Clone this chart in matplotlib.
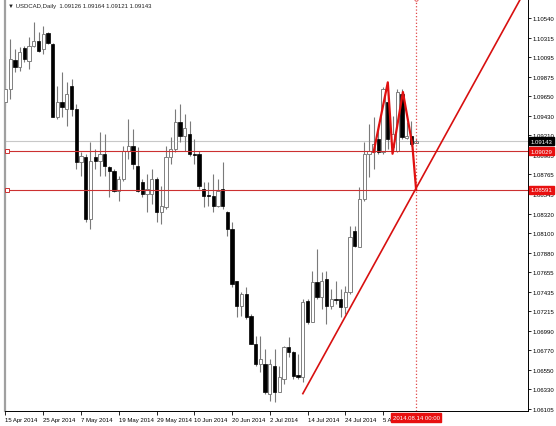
# -*- coding: utf-8 -*-
import matplotlib
matplotlib.use("Agg")
import matplotlib.pyplot as plt
import matplotlib.transforms as mtransforms
import numpy as np
import pandas as pd

plt.rcParams['font.family'] = ['Liberation Sans', 'DejaVu Sans']

# USDCAD daily bars, 15 Apr 2014 .. 14 Aug 2014
dates = pd.bdate_range("2014-04-15", "2014-08-14")

opens = [1.0959, 1.0973, 1.1006, 1.0998, 1.1020, 1.1005, 1.1022, 1.1028, 1.1019, 1.1037,
         1.1024, 1.0942, 1.0959, 1.0951, 1.0977, 1.0951, 1.0891, 1.0896, 1.0826, 1.0896,
         1.0892, 1.0900, 1.0885, 1.0881, 1.0858, 1.0871, 1.0903, 1.0909, 1.0886, 1.0868,
         1.0854, 1.0854, 1.0871, 1.0834, 1.0840, 1.0896, 1.0905, 1.0936, 1.0920, 1.0922,
         1.0900, 1.0900, 1.0860, 1.0853, 1.0852, 1.0841, 1.0860, 1.0834, 1.0815, 1.0756,
         1.0727, 1.0741, 1.0716, 1.0684, 1.0662, 1.0662, 1.0628, 1.0659, 1.0630, 1.0645,
         1.0681, 1.0675, 1.0649, 1.0647, 1.0733, 1.0709, 1.0755, 1.0738, 1.0758, 1.0727,
         1.0735, 1.0735, 1.0726, 1.0743, 1.0812, 1.0794, 1.0849, 1.0900, 1.0902, 1.0917,
         1.0902, 1.0959, 1.0908, 1.0903, 1.0968, 1.0918, 1.0920, 1.09126]
highs = [1.1011, 1.1030, 1.1019, 1.1021, 1.1022, 1.1032, 1.1049, 1.1038, 1.1045, 1.1038,
         1.1026, 1.0977, 1.0993, 1.0981, 1.0985, 1.0956, 1.0902, 1.0900, 1.0913, 1.0905,
         1.0925, 1.0922, 1.0886, 1.0883, 1.0875, 1.0909, 1.0939, 1.0928, 1.0908, 1.0871,
         1.0877, 1.0883, 1.0874, 1.0863, 1.0909, 1.0919, 1.0951, 1.0956, 1.0945, 1.0937,
         1.0917, 1.0903, 1.0868, 1.0868, 1.0877, 1.0871, 1.0891, 1.0835, 1.0823, 1.0756,
         1.0743, 1.0749, 1.0718, 1.0693, 1.0693, 1.0679, 1.0667, 1.0679, 1.0659, 1.0682,
         1.0692, 1.0676, 1.0673, 1.0735, 1.0735, 1.0767, 1.0792, 1.0766, 1.0767, 1.0747,
         1.0756, 1.0747, 1.0750, 1.0818, 1.0818, 1.0862, 1.0913, 1.0934, 1.0942, 1.0934,
         1.0976, 1.0968, 1.0943, 1.0973, 1.0973, 1.0936, 1.0937, 1.09164]
lows = [1.0954, 1.0962, 1.0993, 1.0994, 1.1004, 1.0996, 1.1021, 1.1015, 1.1013, 1.1024,
        1.0942, 1.0939, 1.0942, 1.0932, 1.0943, 1.0883, 1.0875, 1.0823, 1.0815, 1.0883,
        1.0875, 1.0875, 1.0851, 1.0857, 1.0846, 1.0869, 1.0894, 1.0883, 1.0857, 1.0851,
        1.0834, 1.0843, 1.0823, 1.0820, 1.0837, 1.0888, 1.0902, 1.0913, 1.0903, 1.0897,
        1.0888, 1.0860, 1.0840, 1.0841, 1.0834, 1.0840, 1.0837, 1.0807, 1.0749, 1.0715,
        1.0716, 1.0713, 1.0684, 1.0659, 1.0653, 1.0628, 1.0620, 1.0619, 1.0630, 1.0639,
        1.0670, 1.0645, 1.0645, 1.0641, 1.0707, 1.0709, 1.0735, 1.0724, 1.0707, 1.0724,
        1.0730, 1.0715, 1.0718, 1.0741, 1.0794, 1.0794, 1.0846, 1.0874, 1.0883, 1.0900,
        1.0900, 1.0905, 1.0902, 1.0902, 1.0917, 1.0917, 1.0909, 1.09121]
closes = [1.0973, 1.1007, 1.0998, 1.1015, 1.1007, 1.1022, 1.1028, 1.1017, 1.1036, 1.1026,
          1.0942, 1.0959, 1.0953, 1.0968, 1.0951, 1.0891, 1.0897, 1.0826, 1.0892, 1.0892,
          1.0900, 1.0886, 1.0881, 1.0858, 1.0871, 1.0903, 1.0909, 1.0888, 1.0858, 1.0854,
          1.0860, 1.0871, 1.0834, 1.0841, 1.0896, 1.0905, 1.0936, 1.0920, 1.0929, 1.0900,
          1.0899, 1.0863, 1.0852, 1.0852, 1.0841, 1.0858, 1.0841, 1.0815, 1.0752, 1.0727,
          1.0741, 1.0715, 1.0684, 1.0662, 1.0667, 1.0630, 1.0662, 1.0630, 1.0647, 1.0681,
          1.0675, 1.0648, 1.0647, 1.0732, 1.0709, 1.0755, 1.0738, 1.0756, 1.0727, 1.0735,
          1.0734, 1.0726, 1.0743, 1.0806, 1.0795, 1.0849, 1.0900, 1.0903, 1.0911, 1.0902,
          1.0973, 1.0917, 1.0922, 1.0970, 1.0919, 1.0920, 1.0911, 1.09143]

# drawn objects
level_lines = [1.09029, 1.08591]
zigzag_x = [78, 81, 82, 84.2, 86.2, 87]
zigzag_y = [1.0902, 1.0981, 1.0900, 1.0970, 1.0910, 1.0859]
trend_x = [63, 87]
trend_y = [1.0628, 1.0861]
vline_idx = 87
vline_label = "2014.08.14 00:00"

yticks = [1.10540, 1.10315, 1.10095, 1.09875, 1.09650, 1.09430, 1.09210, 1.08985,
          1.08765, 1.08545, 1.08320, 1.08100, 1.07880, 1.07655, 1.07435, 1.07215,
          1.06990, 1.06770, 1.06550, 1.06330, 1.06105]
xtick_idx = [0, 8, 16, 24, 32, 40, 48, 56, 64, 72, 80]

fs = 4.3

fig = plt.figure(figsize=(5.56, 4.27), dpi=100)
ax = fig.add_axes([5 / 556, 15 / 427, 523 / 556, 412 / 427])

x = np.arange(len(dates))
o = np.array(opens); h = np.array(highs); l = np.array(lows); c = np.array(closes)
up = c >= o

ax.vlines(x, l, h, color='#7a7a7a', lw=0.8, zorder=2)
bottom = np.minimum(o, c)
height = np.maximum(np.abs(c - o), 0.00004)
ax.bar(x[up], height[up], bottom=bottom[up], width=0.7, facecolor='white',
       edgecolor='#808080', lw=0.7, zorder=3)
ax.bar(x[~up], height[~up], bottom=bottom[~up], width=0.7, facecolor='black',
       edgecolor='black', lw=0.5, zorder=3)

# current price line
ax.axhline(closes[-1], color='#c8c8c8', lw=0.8, zorder=1)

# horizontal levels
for lv in level_lines:
    ax.axhline(lv, color='#cc3030', lw=0.8, zorder=4)
    ax.plot(0.4, lv, marker='s', ms=2.5, mfc='white', mec='#cc3030', mew=0.7,
            zorder=5, clip_on=False)

# trend line, extended to the right
slope = (trend_y[1] - trend_y[0]) / (trend_x[1] - trend_x[0])
tx_end = 115
ax.plot([trend_x[0], tx_end], [trend_y[0], trend_y[0] + slope * (tx_end - trend_x[0])],
        color='#d81010', lw=1.2, zorder=6)

# head and shoulders zigzag
ax.plot(zigzag_x, zigzag_y, color='#e01010', lw=1.6, zorder=6)

# vertical dotted line
ax.axvline(vline_idx, color='#e04848', lw=0.9, ls=':', zorder=4)
ax.plot(vline_idx, 1.0, marker='o', ms=2.5, mfc='white', mec='#e04848', mew=0.6,
        transform=mtransforms.blended_transform_factory(ax.transData, ax.transAxes),
        clip_on=False, zorder=7)

ax.set_xlim(-0.1, 110.7)
ax.set_ylim(1.06083, 1.10755)

ax.yaxis.tick_right()
ax.set_yticks(yticks)
ax.set_yticklabels(["%.5f" % v for v in yticks])
ax.tick_params(axis='y', labelsize=fs, length=2, pad=1.5, width=0.6)
ax.set_xticks(xtick_idx)
ax.set_xticklabels([f"{d.day} {d.strftime('%b %Y')}" for d in dates[xtick_idx]])
ax.tick_params(axis='x', labelsize=fs, length=3, pad=1.5, width=0.6)
for t in ax.get_xticklabels():
    t.set_ha('left')

ax.spines['top'].set_visible(False)
ax.spines['left'].set_color('#a0a0a0')
ax.spines['left'].set_linewidth(1.6)
ax.spines['right'].set_linewidth(0.7)
ax.spines['bottom'].set_linewidth(0.7)

# value boxes on the price scale
trans_y = mtransforms.blended_transform_factory(ax.transAxes, ax.transData)
for lv in level_lines:
    ax.text(1.005, lv, "%.5f" % lv, transform=trans_y, fontsize=fs, color='white',
            va='center', ha='left', zorder=10, clip_on=False,
            bbox=dict(boxstyle='square,pad=0.3', fc='#e81010', ec='#e81010'))
ax.text(1.005, closes[-1], "%.5f" % closes[-1], transform=trans_y, fontsize=fs,
        color='white', va='center', ha='left', zorder=10, clip_on=False,
        bbox=dict(boxstyle='square,pad=0.3', fc='black', ec='black'))

trans_x = mtransforms.blended_transform_factory(ax.transData, ax.transAxes)
ax.text(vline_idx, -0.01, vline_label, transform=trans_x, fontsize=fs, color='white',
        va='top', ha='center', zorder=10, clip_on=False,
        bbox=dict(boxstyle='square,pad=0.3', fc='#e81010', ec='#e81010'))

ax.text(0.006, 0.985, "\u25bc USDCAD,Daily  %.5f %.5f %.5f %.5f" % (
    opens[-1], highs[-1], lows[-1], closes[-1]), transform=ax.transAxes,
    fontsize=fs, va='center', ha='left', color='#202020')

fig.savefig("out.png", dpi=100)
